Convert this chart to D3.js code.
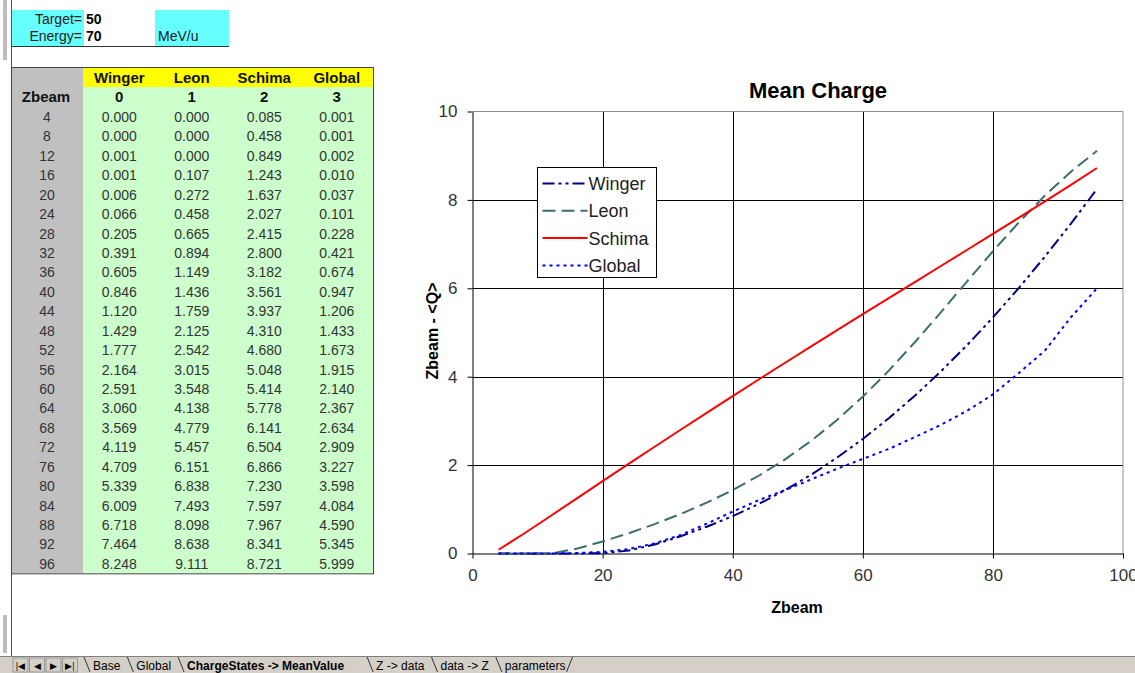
<!DOCTYPE html>
<html>
<head>
<meta charset="utf-8">
<script src="https://cdn.jsdelivr.net/npm/d3@7"></script>
<style>
  body { margin: 0; background: #fff; }
  svg { display: block; font-family: Arial, "Liberation Sans", sans-serif; }
</style>
</head>
<body>
<div id="sheet"></div>
<script>
// ---- data ----
const zbeam = [4, 8, 12, 16, 20, 24, 28, 32, 36, 40, 44, 48, 52, 56, 60, 64, 68, 72, 76, 80, 84, 88, 92, 96];
const winger = [0.000, 0.000, 0.001, 0.001, 0.006, 0.066, 0.205, 0.391, 0.605, 0.846, 1.120, 1.429, 1.777, 2.164, 2.591, 3.060, 3.569, 4.119, 4.709, 5.339, 6.009, 6.718, 7.464, 8.248];
const leon = [0.000, 0.000, 0.000, 0.107, 0.272, 0.458, 0.665, 0.894, 1.149, 1.436, 1.759, 2.125, 2.542, 3.015, 3.548, 4.138, 4.779, 5.457, 6.151, 6.838, 7.493, 8.098, 8.638, 9.111];
const schima = [0.085, 0.458, 0.849, 1.243, 1.637, 2.027, 2.415, 2.800, 3.182, 3.561, 3.937, 4.310, 4.680, 5.048, 5.414, 5.778, 6.141, 6.504, 6.866, 7.230, 7.597, 7.967, 8.341, 8.721];
const global = [0.001, 0.001, 0.002, 0.010, 0.037, 0.101, 0.228, 0.421, 0.674, 0.947, 1.206, 1.433, 1.673, 1.915, 2.140, 2.367, 2.634, 2.909, 3.227, 3.598, 4.084, 4.590, 5.345, 5.999];
const seriesNames = ["Winger", "Leon", "Schima", "Global"];
const seriesIdx = [0, 1, 2, 3];
const xTicks = [0, 20, 40, 60, 80, 100];
const yTicks = [0, 2, 4, 6, 8, 10];
const tabs = ["Base", "Global", "ChargeStates -> MeanValue", "Z -> data", "data -> Z", "parameters"];

const W = 1135, H = 673;
const svg = d3.select("#sheet").append("svg").attr("width", W).attr("height", H);

// ---- left page decorations ----
svg.append("rect").attr("x", 3).attr("y", 0).attr("width", 4).attr("height", 60).attr("fill", "#bdbdbd");
svg.append("rect").attr("x", 3).attr("y", 615).attr("width", 4).attr("height", 38).attr("fill", "#bdbdbd");
svg.append("line").attr("x1", 11.5).attr("x2", 11.5).attr("y1", 0).attr("y2", 656).attr("stroke", "#555");

// ---- Target / Energy box ----
const topBox = svg.append("g");
topBox.append("rect").attr("x", 12).attr("y", 10).attr("width", 72).attr("height", 36).attr("fill", "#66ffff");
topBox.append("rect").attr("x", 155).attr("y", 10).attr("width", 74).attr("height", 36).attr("fill", "#66ffff");
topBox.append("line").attr("x1", 11).attr("x2", 229).attr("y1", 46.5).attr("y2", 46.5).attr("stroke", "#333");
const params = [["Target=", "50", ""], ["Energy=", "70", "MeV/u"]];
params.forEach((p, i) => {
  const yb = 24 + i * 17;
  topBox.append("text").attr("x", 82).attr("y", yb).attr("text-anchor", "end").attr("font-size", 14).attr("fill", "#222").text(p[0]);
  topBox.append("text").attr("x", 86).attr("y", yb).attr("font-size", 14).attr("font-weight", "bold").attr("fill", "#000").text(p[1]);
  topBox.append("text").attr("x", 158).attr("y", yb).attr("font-size", 14).attr("fill", "#222").text(p[2]);
});

// ---- table ----
const tbl = svg.append("g");
const tTop = 68, hdrH = 19, idxH = 20, rowH = 19.43;
const colX = d3.scaleBand().domain(["z"].concat(seriesNames)).range([83 - 72.5, 373]);
const rowsTop = tTop + hdrH + idxH;
const rowY = d3.scaleBand().domain(zbeam).range([rowsTop, rowsTop + rowH * zbeam.length]);
const tBottom = rowsTop + rowH * zbeam.length;

tbl.append("rect").attr("x", 12).attr("y", tTop).attr("width", 71).attr("height", tBottom - tTop).attr("fill", "#c0c0c0");
tbl.append("rect").attr("x", 83).attr("y", tTop).attr("width", 290).attr("height", hdrH).attr("fill", "#ffff00");
tbl.append("rect").attr("x", 83).attr("y", tTop + hdrH).attr("width", 290).attr("height", tBottom - tTop - hdrH).attr("fill", "#ccffcc");
tbl.append("rect").attr("x", 11.5).attr("y", tTop - 0.5).attr("width", 362).attr("height", tBottom - tTop + 1)
  .attr("fill", "none").attr("stroke", "#444");

seriesNames.forEach((n, i) => {
  const cx = colX(n) + colX.bandwidth() / 2;
  tbl.append("text").attr("x", cx).attr("y", tTop + 15).attr("text-anchor", "middle")
    .attr("font-size", 15).attr("font-weight", "bold").attr("fill", "#111").text(n);
  tbl.append("text").attr("x", cx).attr("y", tTop + hdrH + 15).attr("text-anchor", "middle")
    .attr("font-size", 15).attr("font-weight", "bold").attr("fill", "#111").text(seriesIdx[i]);
});
tbl.append("text").attr("x", 46).attr("y", tTop + hdrH + 15).attr("text-anchor", "middle")
  .attr("font-size", 15).attr("font-weight", "bold").attr("fill", "#111").text("Zbeam");

const cols = [winger, leon, schima, global];
zbeam.forEach((z, r) => {
  const yb = rowY(z) + 15;
  tbl.append("text").attr("x", 47).attr("y", yb).attr("text-anchor", "middle")
    .attr("font-size", 14).attr("fill", "#333").text(z);
  cols.forEach((c, i) => {
    const cx = colX(seriesNames[i]) + colX.bandwidth() / 2;
    tbl.append("text").attr("x", cx).attr("y", yb).attr("text-anchor", "middle")
      .attr("font-size", 14).attr("fill", "#333").text(c[r].toFixed(3));
  });
});

// ---- chart ----
const x = d3.scaleLinear().domain([0, 100]).range([472.5, 1123]);
const y = d3.scaleLinear().domain([0, 10]).range([553.5, 111.5]);
const ch = svg.append("g");

// grid
ch.selectAll(".vg").data(xTicks.filter(t => t > 0 && t < 100)).join("line")
  .attr("x1", d => Math.round(x(d)) + 0.5).attr("x2", d => Math.round(x(d)) + 0.5)
  .attr("y1", y(10)).attr("y2", y(0)).attr("stroke", "#000");
ch.selectAll(".hg").data(yTicks.filter(t => t > 0 && t < 10)).join("line")
  .attr("x1", x(0)).attr("x2", x(100))
  .attr("y1", d => Math.round(y(d)) + 0.5).attr("y2", d => Math.round(y(d)) + 0.5).attr("stroke", "#000");
ch.append("line").attr("x1", x(0)).attr("x2", x(100)).attr("y1", y(10)).attr("y2", y(10)).attr("stroke", "#909090");
ch.append("line").attr("x1", x(100)).attr("x2", x(100)).attr("y1", y(10)).attr("y2", y(0)).attr("stroke", "#909090");

// axes
const xAxis = d3.axisBottom(x).tickValues(xTicks).tickSize(5).tickSizeOuter(0).tickPadding(10);
const yAxis = d3.axisLeft(y).tickValues(yTicks).tickSize(5).tickSizeOuter(0).tickPadding(10);
const gx = ch.append("g").attr("transform", `translate(0,${y(0)})`).call(xAxis);
const gy = ch.append("g").attr("transform", `translate(${x(0)},0)`).call(yAxis);
[gx, gy].forEach(g => {
  g.select(".domain").attr("stroke", "#000");
  g.selectAll(".tick line").attr("stroke", "#000");
  g.selectAll(".tick text").attr("font-family", "Arial, 'Liberation Sans', sans-serif")
    .attr("font-size", 17).attr("fill", "#333");
});

// series
const styles = [
  { color: "#000080", dash: "12,4,3,4,3,4" },
  { color: "#3d6e6e", dash: "13,6" },
  { color: "#ff0000", dash: null },
  { color: "#0000ff", dash: "3,4" }
];
const line = d3.line().x(d => x(d[0])).y(d => y(d[1]));
cols.forEach((c, i) => {
  ch.append("path").datum(zbeam.map((z, k) => [z, c[k]]))
    .attr("d", line).attr("fill", "none")
    .attr("stroke", styles[i].color).attr("stroke-width", 2)
    .attr("stroke-dasharray", styles[i].dash);
});

// titles
ch.append("text").attr("x", 818).attr("y", 98).attr("text-anchor", "middle")
  .attr("font-size", 22).attr("font-weight", "bold").attr("fill", "#000").text("Mean Charge");
ch.append("text").attr("x", 797).attr("y", 613).attr("text-anchor", "middle")
  .attr("font-size", 16).attr("font-weight", "bold").attr("fill", "#000").text("Zbeam");
ch.append("text").attr("transform", "translate(438,331) rotate(-90)").attr("text-anchor", "middle")
  .attr("font-size", 16).attr("font-weight", "bold").attr("fill", "#000").text("Zbeam - <Q>");

// legend
const lg = ch.append("g").attr("transform", "translate(537.5,167.5)");
lg.append("rect").attr("width", 119).attr("height", 110).attr("fill", "#fff").attr("stroke", "#000");
seriesNames.forEach((n, i) => {
  const ly = 16 + i * 27.3;
  lg.append("line").attr("x1", 5).attr("x2", 50).attr("y1", ly).attr("y2", ly)
    .attr("stroke", styles[i].color).attr("stroke-width", 2).attr("stroke-dasharray", styles[i].dash);
  lg.append("text").attr("x", 51).attr("y", ly + 6.5).attr("font-size", 18).attr("fill", "#222").text(n);
});

// ---- sheet tabs ----
const tb = svg.append("g");
tb.append("rect").attr("x", 0).attr("y", 656).attr("width", W).attr("height", 17).attr("fill", "#d4d0c8");
tb.append("line").attr("x1", 0).attr("x2", W).attr("y1", 656.5).attr("y2", 656.5).attr("stroke", "#808080");
const arrows = ["|◀", "◀", "▶", "▶|"];
arrows.forEach((a, i) => {
  tb.append("rect").attr("x", 13 + i * 16.5).attr("y", 658).attr("width", 15).attr("height", 14)
    .attr("fill", "#d4d0c8").attr("stroke", "#999");
  tb.append("text").attr("x", 20.5 + i * 16.5).attr("y", 669).attr("text-anchor", "middle")
    .attr("font-size", 9).attr("fill", "#000").text(a);
});
let tx = 84;
tabs.forEach((t, i) => {
  const active = i === 2;
  const el = tb.append("text").attr("x", tx + 9).attr("y", 670)
    .attr("font-size", 12).attr("font-weight", active ? "bold" : "normal").attr("fill", "#000").text(t);
  const w = el.node().getComputedTextLength();
  tb.append("line").attr("x1", tx).attr("x2", tx + 6).attr("y1", 657).attr("y2", 672).attr("stroke", "#333");
  tx += w + (active ? 32 : 16);
});
tb.append("line").attr("x1", tx).attr("x2", tx - 6).attr("y1", 657).attr("y2", 672).attr("stroke", "#333");
</script>
</body>
</html>
